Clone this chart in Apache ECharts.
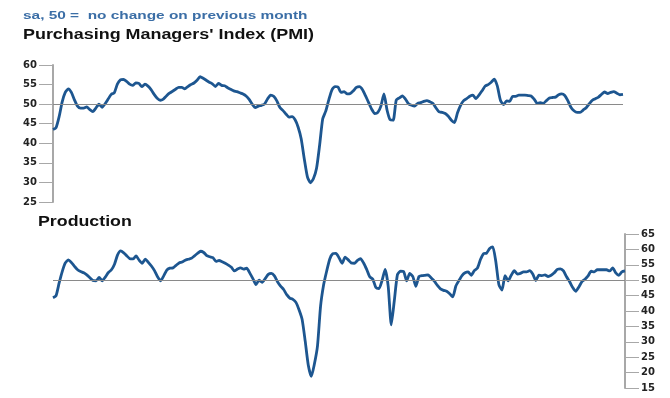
<!DOCTYPE html>
<html>
<head>
<meta charset="utf-8">
<script src="https://cdn.jsdelivr.net/npm/echarts@6/dist/echarts.min.js"></script>
<style>
  html, body { margin: 0; padding: 0; background: #fff; }
  #main { width: 670px; height: 398px; }
</style>
</head>
<body>
<div id="main"></div>
<script>
  // monthly readings, sa
  const pmi = [
    43.5, 44.0, 46.8, 50.6, 53.0, 53.9, 53.0, 51.1, 49.5, 49.0,
    49.0, 49.3, 48.6, 48.1, 49.0, 50.0, 49.2, 50.1, 51.3, 52.5,
    52.9, 55.1, 56.2, 56.3, 55.8, 55.1, 54.8, 55.4, 55.3, 54.5,
    55.1, 54.6, 53.7, 52.5, 51.5, 51.0, 51.3, 52.1, 52.8, 53.3,
    53.8, 54.3, 54.3, 53.9, 54.5, 55.0, 55.4, 56.1, 57.0, 56.6,
    56.1, 55.6, 55.2, 54.5, 55.3, 54.8, 54.7, 54.2, 53.8, 53.4,
    53.2, 52.9, 52.6, 52.1, 51.2, 50.0, 49.1, 49.5, 49.7, 50.0,
    51.3, 52.3, 52.0, 50.9, 49.2, 48.4, 47.5, 46.7, 46.8, 46.0,
    44.1, 41.1, 36.0, 31.5, 29.9, 31.0, 33.6, 39.5, 46.2, 48.2,
    51.1, 53.6, 54.5, 54.4, 53.0, 53.2, 52.6, 52.7, 53.4, 54.3,
    54.5, 53.7, 52.1, 50.4, 48.7, 47.6, 47.9, 49.5, 52.6, 48.5,
    46.0, 45.9, 51.0, 51.6, 52.1, 51.3, 50.1, 49.7, 49.5, 50.2,
    50.4, 50.7, 50.9, 50.6, 50.2, 49.0, 48.0, 47.9, 47.6, 46.9,
    45.9, 45.3, 47.8, 49.7, 50.9, 51.4, 52.0, 52.3, 51.4, 52.3,
    53.4, 54.6, 55.0, 55.6, 56.4, 54.6, 51.0, 49.9, 50.8, 50.7,
    52.0, 52.0, 52.3, 52.3, 52.3, 52.2, 52.1, 51.3, 50.2, 50.4,
    50.2, 50.9, 51.6, 51.7, 51.8, 52.4, 52.6, 52.2, 50.9, 49.2,
    48.3, 47.9, 47.9, 48.5, 49.1, 50.1, 51.0, 51.4, 51.8, 52.5,
    53.1, 52.7, 53.0, 53.2, 52.8, 52.4, 52.5
  ]

  const production = [
    44.3, 45.0, 49.1, 52.8, 55.6, 56.6, 55.7, 54.5, 53.4, 52.8,
    52.4, 51.7, 50.8, 49.9, 49.8, 50.9, 49.8, 51.0, 52.5, 53.4,
    55.2, 58.2, 59.5, 58.9, 57.9, 57.0, 56.9, 57.9, 56.5, 55.5,
    56.8, 55.8, 54.6, 53.1, 51.1, 49.8, 51.4, 53.3, 53.9, 54.0,
    54.8, 55.6, 55.9, 56.5, 56.8, 57.1, 57.9, 58.7, 59.4, 59.0,
    58.0, 57.6, 57.3, 56.1, 56.4, 56.0, 55.5, 54.9, 54.2, 53.0,
    53.6, 54.0, 53.6, 53.9, 52.3, 50.5, 48.6, 50.0, 49.3, 50.5,
    51.9, 52.2, 51.4, 49.5, 48.1, 47.0, 45.3, 44.2, 43.8, 42.8,
    40.4, 37.3, 30.3, 22.5, 18.8, 22.8, 28.6, 41.5, 48.5, 53.0,
    56.9, 58.6, 58.7, 57.3, 55.5, 57.5, 56.6, 55.6, 55.5, 56.4,
    57.0, 55.6, 53.5, 51.1, 50.3, 47.6, 47.3, 49.9, 53.5, 48.0,
    35.5, 43.5, 51.8, 52.9, 52.8, 49.8, 52.2, 51.2, 48.0, 51.2,
    51.5, 51.6, 51.7, 50.7, 49.7, 48.3, 47.2, 46.7, 46.4, 45.6,
    44.6, 48.1, 49.9, 51.5, 52.4, 52.7, 51.6, 53.1, 53.9, 56.7,
    58.6, 58.8, 60.3, 60.8, 56.0, 48.5, 46.8, 51.5, 49.8, 51.6,
    53.1, 52.0, 52.2, 52.7, 52.7, 53.1, 52.0, 49.9, 51.6, 51.5,
    51.7, 51.2, 51.6, 52.4, 53.5, 53.7, 53.0, 51.1, 49.5, 47.6,
    46.4, 47.8, 49.5, 50.3, 51.4, 52.9, 52.7, 53.4, 53.4, 53.4,
    53.4, 53.0, 54.0, 52.4, 51.6, 52.7, 53.0
  ]

  const months = pmi.map((v, i) => String(i + 1))

  const lineColor = '#1d5690'
  const axisGray = '#a8a8a8'
  const labelFont = { fontFamily: 'DejaVu Sans', fontSize: 10, fontWeight: 'bold', color: '#222' }

  const refLine = {
    silent: true,
    symbol: 'none',
    label: { show: false },
    lineStyle: { color: '#8a8a8a', width: 1, type: 'solid' },
    data: [{ yAxis: 50 }]
  }

  // the original's headings are drawn a little wide, so stretch them
  function heading(text, x, y, size, color, sx) {
    return {
      type: 'text', x: x, y: y, scaleX: sx, silent: true,
      style: { text: text, fill: color, font: 'bold ' + size + 'px "Liberation Sans"', verticalAlign: 'top' }
    }
  }

  const chart = echarts.init(document.getElementById('main'))
  chart.setOption({
    animation: false,
    graphic: [
      heading('sa, 50 =  no change on previous month', 23, 10.5, 11, '#3b6ea6', 1.4),
      heading("Purchasing Managers' Index (PMI)", 23, 28.5, 14, '#111', 1.28),
      heading('Production', 38, 215, 14, '#111', 1.27)
    ],
    grid: [
      { left: 53, top: 65, width: 570, height: 137 },
      { left: 53, top: 234, width: 572, height: 154 }
    ],
    xAxis: [
      { type: 'category', gridIndex: 0, data: months, boundaryGap: false, show: false },
      { type: 'category', gridIndex: 1, data: months, boundaryGap: false, show: false }
    ],
    yAxis: [
      {
        type: 'value', gridIndex: 0, position: 'left',
        min: 25, max: 60, interval: 5,
        axisLine: { show: true, lineStyle: { color: axisGray, width: 2 } },
        axisTick: { show: true, length: 14, lineStyle: { color: axisGray, width: 1 } },
        axisLabel: Object.assign({ margin: 16 }, labelFont),
        splitLine: { show: false }
      },
      {
        type: 'value', gridIndex: 1, position: 'right',
        min: 15, max: 65, interval: 5,
        axisLine: { show: true, lineStyle: { color: axisGray, width: 2 } },
        axisTick: { show: true, length: 14, lineStyle: { color: axisGray, width: 1 } },
        axisLabel: Object.assign({ margin: 16 }, labelFont),
        splitLine: { show: false }
      }
    ],
    series: [
      {
        name: 'PMI', type: 'line', xAxisIndex: 0, yAxisIndex: 0,
        data: pmi, showSymbol: false, smooth: 0.2,
        lineStyle: { color: lineColor, width: 2.8 },
        markLine: refLine, z: 3
      },
      {
        name: 'Production', type: 'line', xAxisIndex: 1, yAxisIndex: 1,
        data: production, showSymbol: false, smooth: 0.2,
        lineStyle: { color: lineColor, width: 2.8 },
        markLine: refLine, z: 3
      }
    ]
  })
</script>
</body>
</html>
